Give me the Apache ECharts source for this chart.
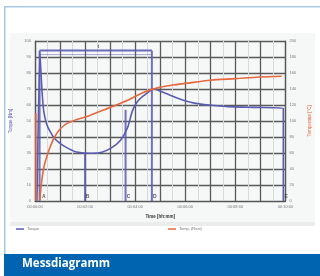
<!DOCTYPE html>
<html>
<head>
<meta charset="utf-8">
<script src="https://cdn.jsdelivr.net/npm/echarts@6/dist/echarts.min.js"></script>
<style>
  html, body { margin: 0; padding: 0; background: #fff; }
  #main { width: 320px; height: 276px; }
</style>
</head>
<body>
<div id="main"></div>
<script>
// time in seconds, torque in Nm (left), temperature in °C (right)
const torqueT = [4.7, 11.7, 14, 17, 21, 28, 37, 47, 60, 75, 95, 119, 140, 160, 182, 205, 222, 233, 245, 261, 285, 292, 320, 355, 385, 416, 462, 525, 595, 595]
const torqueV = [0, 93, 82, 68, 56, 48, 43, 39, 36, 33.5, 31, 30, 29.8, 30.5, 33, 38, 46, 56, 62, 66, 70, 69.5, 66.5, 63, 61, 60, 59, 58.5, 58, 0]

const tempT = [11.7, 15, 18.7, 23, 28, 35, 47, 60, 77, 100, 121, 150, 180, 222, 261, 299, 330, 360, 420, 481, 537, 591]
const tempV = [1, 20, 35, 46, 55, 66, 80, 90, 97, 102, 105, 111, 117, 126, 136, 142, 145, 147, 151, 153, 155, 156]

// cursor lines A..D and the bracket between A and D
const markerT = [11, 120, 217, 280]
const markerTop = [94, 30, 57, 94]
const markerNames = ['A', 'B', 'C', 'D', 'E']
const markerLabelT = [21, 126, 224, 287, 602]
const bracketV = [94, 91.5]
const startT = 2
const startTop = 110

const xTickLabels = ['00:00:00', '00:02:00', '00:04:00', '00:06:00', '00:08:00', '00:10:00']

const blue = '#5a5cb4'
const orange = '#e8683e'

const zip = (a, b) => a.map((v, i) => [v, b[i]])

const myChart = echarts.init(document.getElementById('main'))

const markerSeries = markerT.map((t, i) => ({
  type: 'line',
  silent: true,
  symbol: 'none',
  data: [[t, 0], [t, markerTop[i]]],
  lineStyle: { color: blue, width: 2, opacity: 0.85 },
  z: 3
}))

const bracketSeries = bracketV.map((v, i) => ({
  type: 'line',
  silent: true,
  symbol: 'none',
  data: [[markerT[0], v], [markerT[3], v]],
  lineStyle: { color: blue, width: i === 0 ? 2 : 1, opacity: i === 0 ? 0.9 : 0.5 },
  z: 3
}))

myChart.setOption({
  backgroundColor: '#fff',
  animation: false,
  graphic: [
    { type: 'rect', z: -10, shape: { x: 10, y: 33, width: 305, height: 193 }, style: { fill: '#f6f7f7' } },
    { type: 'rect', z: -9, shape: { x: 10, y: 222, width: 305, height: 4 }, style: { fill: '#ebeded' } },
    { type: 'rect', shape: { x: 4, y: 6, width: 316, height: 1.5 }, style: { fill: '#a9c9e6' } },
    { type: 'rect', shape: { x: 4, y: 6, width: 1.5, height: 248 }, style: { fill: '#a9c9e6' } },
    { type: 'rect', shape: { x: 4, y: 254, width: 316, height: 22 }, style: { fill: '#0064b0' } },
    {
      type: 'text', left: 22, top: 258,
      style: { text: 'Messdiagramm', fill: '#fff', font: 'bold 11.5px "Open Sans", sans-serif' }
    }
  ],
  grid: { left: 35, right: 28, top: 41, bottom: 75 },
  legend: [
    {
      left: 11, top: 222, itemWidth: 8, itemHeight: 1.5, itemGap: 4, icon: 'rect',
      data: ['Torque'],
      textStyle: { fontSize: 4, color: '#777', padding: [0, 0, 0, -2] }
    },
    {
      left: 163, top: 222, itemWidth: 8, itemHeight: 1.5, itemGap: 4, icon: 'rect',
      data: ['Temp. (Rest)'],
      textStyle: { fontSize: 4, color: '#777', padding: [0, 0, 0, -2] }
    }
  ],
  xAxis: {
    type: 'value',
    min: 0,
    max: 600,
    interval: 60,
    name: 'Time [hh:mm]',
    nameLocation: 'middle',
    nameGap: 13,
    nameTextStyle: { fontSize: 4.5, color: '#333', fontWeight: 'bold' },
    axisLine: { lineStyle: { color: '#555', width: 1.2 } },
    axisTick: { show: false },
    axisLabel: {
      fontSize: 4, color: '#777', margin: 4,
      formatter: v => (v % 120 === 0 ? xTickLabels[v / 120] : '')
    },
    splitLine: { lineStyle: { color: '#5a5a5a', width: 1.3 } },
    minorTick: { show: false, splitNumber: 2 },
    minorSplitLine: { show: true, lineStyle: { color: '#d6d9da', width: 1 } }
  },
  yAxis: [
    {
      type: 'value',
      min: 0,
      max: 100,
      interval: 10,
      name: 'Torque [Nm]',
      nameLocation: 'middle',
      nameGap: 19,
      nameTextStyle: { fontSize: 4.5, color: blue },
      axisLine: { show: true, lineStyle: { color: '#555', width: 1.2 } },
      axisTick: { show: false },
      axisLabel: { fontSize: 4, color: '#777', margin: 4 },
      splitLine: { lineStyle: { color: '#5a5a5a', width: 1.3 } }
    },
    {
      type: 'value',
      min: 0,
      max: 200,
      interval: 20,
      name: 'Temperatur [°C]',
      nameLocation: 'middle',
      nameGap: 17,
      nameTextStyle: { fontSize: 4.5, color: orange },
      axisLine: { show: true, lineStyle: { color: '#555', width: 1.2 } },
      axisTick: { show: false },
      axisLabel: { fontSize: 4, color: '#777', margin: 4 },
      splitLine: { show: false }
    }
  ],
  series: [
    {
      name: 'Torque',
      type: 'line',
      symbol: 'none',
      smooth: 0.2,
      data: zip(torqueT, torqueV),
      color: blue,
      lineStyle: { color: blue, width: 1.6 },
      z: 4
    },
    {
      name: 'Temp. (Rest)',
      type: 'line',
      yAxisIndex: 1,
      symbol: 'none',
      smooth: 0.3,
      data: zip(tempT, tempV),
      color: orange,
      lineStyle: { color: orange, width: 1.6 },
      z: 5
    },
    {
      type: 'line',
      yAxisIndex: 1,
      silent: true,
      symbol: 'none',
      data: [[startT, 0], [startT, startTop]],
      lineStyle: { color: orange, width: 2, opacity: 0.8 },
      z: 4
    },
    ...markerSeries,
    ...bracketSeries,
    {
      type: 'scatter',
      silent: true,
      symbolSize: 0,
      clip: false,
      data: markerLabelT.map((t, i) => ({ value: [t, 2.5], name: markerNames[i] })),
      label: { show: true, formatter: '{b}', fontSize: 5, color: '#333', fontWeight: 'bold', position: 'inside' },
      z: 6
    },
    {
      type: 'scatter',
      silent: true,
      symbolSize: 0,
      data: [{ value: [152, 96.5], name: 't' }],
      label: { show: true, formatter: '{b}', fontSize: 5, color: '#333', fontWeight: 'bold', position: 'inside' },
      z: 6
    }
  ]
})
</script>
</body>
</html>
